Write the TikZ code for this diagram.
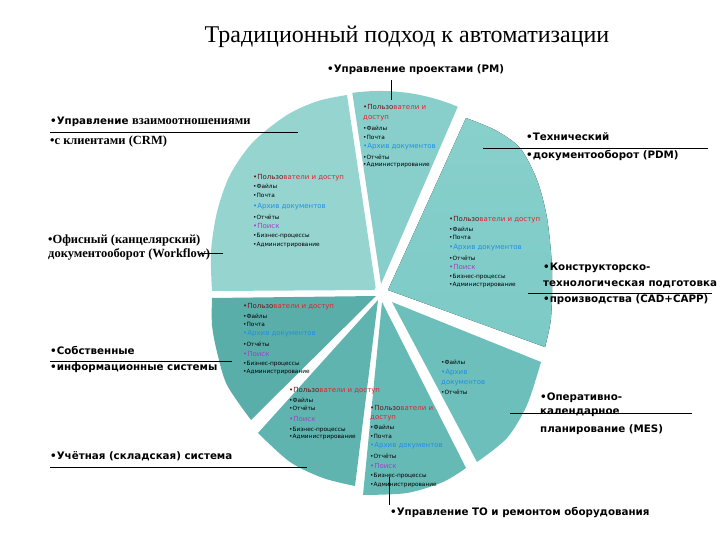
\documentclass[tikz,border=0pt]{standalone}
\usepackage{fontspec}
\setmainfont{Liberation Serif}
\newfontfamily\lblfont{DejaVu Sans}
\newfontfamily\serlbl{Liberation Serif}
\definecolor{cred}{HTML}{E3202A}
\definecolor{cdred}{HTML}{6A1414}
\definecolor{cblue}{HTML}{1E8FE6}
\definecolor{cpurp}{HTML}{A040C8}
\definecolor{sCRM}{HTML}{96D4D0}
\definecolor{sPM}{HTML}{88CFCB}
\definecolor{sCAD}{HTML}{7CCAC6}
\definecolor{sCADtop}{HTML}{88D0CC}
\definecolor{sOWN}{HTML}{5AAEAA}
\definecolor{sACC}{HTML}{60B4B0}
\definecolor{sTO}{HTML}{66BAB6}
\definecolor{sMES}{HTML}{6CBFBB}
\newcommand\usrtxt{{\color{cdred}•Пользо}ватели}
\tikzset{
  lbl/.style={font=\lblfont\bfseries\fontsize{10.3}{12}\selectfont, anchor=west, inner sep=0pt},
  slbl/.style={font=\serlbl\bfseries\fontsize{12.5}{14}\selectfont, anchor=west, inner sep=0pt},
  big/.style={font=\lblfont\fontsize{7}{8}\selectfont, anchor=west, inner sep=0pt},
  sm/.style={font=\lblfont\fontsize{5.8}{6}\selectfont, anchor=west, inner sep=0pt},
  lead/.style={draw=black, line width=0.8pt}
}
\begin{document}
\begin{tikzpicture}[x=1pt,y=-1pt]
\useasboundingbox (0,0) rectangle (720,540);
\coordinate (C) at (380,292);
% slices
\fill[sCRM] (376,290) -- plot[smooth] coordinates {(212,291) (211,252) (217,212) (230,175) (253,142) (287,115) (318,101) (347,95)} -- cycle;
\fill[sPM] (381,284) -- (352.3,92.9) arc[start angle=-98, end angle=-67, radius=199] -- cycle;
\fill[top color=sCADtop, bottom color=sCAD] (388,290) -- plot[smooth] coordinates {(466,118) (495,130) (520,148) (537,180) (547,218) (552,268) (551,318) (545,347)} -- cycle;
\fill[sOWN] (376,296) -- plot[smooth] coordinates {(212,298) (212,325) (217,352) (227,385) (251,420)} -- cycle;
\fill[sACC] (378,300) -- plot[smooth] coordinates {(258,433) (290,462) (323,478) (355,486)} -- cycle;
\fill[sTO] (382,302) -- plot[smooth] coordinates {(363,495) (407,493) (443,482) (466,468)} -- cycle;
\fill[sMES] (392,302) -- plot[smooth] coordinates {(477,462) (507,438) (527,405) (541,362)} -- cycle;
\fill[white] (C) circle[radius=6];

\node[font=\fontsize{24}{28}\selectfont] (title) at (407,37) {Традиционный подход к автоматизации};

% labels
\node[lbl] (pm) at (327,70) {•Управление проектами (PM)};
\coordinate (pma) at (391,80); \coordinate (pmb) at (391,100);
\draw[lead] (pma) -- (pmb);

\node[anchor=west, inner sep=0pt] (crm1) at (50,122) {{\lblfont\bfseries\fontsize{10.3}{12}\selectfont •Управление }{\serlbl\bfseries\fontsize{12.5}{14}\selectfont взаимоотношениями}};
\node[slbl] (crm2) at (50,141) {•с клиентами (CRM)};
\coordinate (crma) at (50,132); \coordinate (crmb) at (298,132);
\draw[lead] (crma) -- (crmb);

\node[lbl] (pdm1) at (526,137) {•Технический};
\node[lbl] (pdm2) at (526,156) {•документооборот (PDM)};
\coordinate (pdma) at (483,148); \coordinate (pdmb) at (708,148);
\draw[lead] (pdma) -- (pdmb);

\node[slbl] (wf1) at (48,240) {•Офисный (канцелярский)};
\node[slbl] (wf2) at (48,254) {документооборот (Workflow)};
\coordinate (wfa) at (200,253); \coordinate (wfb) at (223,253);
\draw[lead] (wfa) -- (wfb);

\node[lbl] (cad1) at (543,268) {•Конструкторско-};
\node[lbl] (cad2) at (543,284) {технологическая подготовка};
\node[lbl] (cad3) at (543,300) {•производства (CAD+CAPP)};
\coordinate (cada) at (528,293); \coordinate (cadb) at (712,293);
\draw[lead] (cada) -- (cadb);

\node[lbl] (own1) at (50,350) {•Собственные};
\node[lbl] (own2) at (50,368) {•информационные системы};
\coordinate (owna) at (50,361); \coordinate (ownb) at (232,361);
\draw[lead] (owna) -- (ownb);

\node[lbl] (acc) at (50,456) {•Учётная (складская) система};
\coordinate (acca) at (50,467); \coordinate (accb) at (307,467);
\draw[lead] (acca) -- (accb);

\node[lbl] (mes1) at (540,398) {•Оперативно-};
\node[lbl] (mes2) at (540,413) {календарное};
\node[lbl] (mes3) at (540,430) {планирование (MES)};
\coordinate (mesa) at (510,413); \coordinate (mesb) at (692,413);
\draw[lead] (mesa) -- (mesb);

\node[lbl] (to) at (390,513) {•Управление ТО и ремонтом оборудования};
\coordinate (toa) at (389,477); \coordinate (tob) at (389,505);
\draw[lead] (toa) -- (tob);

% block 1 (PM)
\node[big, text=cred] (b1a) at (363,107) {\usrtxt\ и};
\node[big, text=cred] (b1b) at (363,118) {доступ};
\node[sm] (b1c) at (363,128) {•Файлы};
\node[sm] (b1d) at (363,137) {•Почта};
\node[big, text=cblue] (b1e) at (363,147) {•Архив документов};
\node[sm] (b1f) at (363,157) {•Отчёты};
\node[sm] (b1g) at (363,165) {•Администрирование};

% block 2
\node[big, text=cred] (b2a) at (253,178) {\usrtxt\ и доступ};
\node[sm] (b2b) at (253,186) {•Файлы};
\node[sm] (b2c) at (253,195) {•Почта};
\node[big, text=cblue] (b2d) at (253,207) {•Архив документов};
\node[sm] (b2e) at (253,217) {•Отчёты};
\node[big, text=cpurp] (b2f) at (253,226) {•Поиск};
\node[sm] (b2g) at (253,236) {•Бизнес-процессы};
\node[sm] (b2h) at (253,245) {•Администрирование};

% block 3
\node[big, text=cred] (b3a) at (449,220) {\usrtxt\ и доступ};
\node[sm] (b3b) at (449,229) {•Файлы};
\node[sm] (b3c) at (449,237) {•Почта};
\node[big, text=cblue] (b3d) at (449,248) {•Архив документов};
\node[sm] (b3e) at (449,258) {•Отчёты};
\node[big, text=cpurp] (b3f) at (449,267) {•Поиск};
\node[sm] (b3g) at (449,277) {•Бизнес-процессы};
\node[sm] (b3h) at (449,285) {•Администрирование};

% block 4
\node[big, text=cred] (b4a) at (243,307) {\usrtxt\ и доступ};
\node[sm] (b4b) at (243,316) {•Файлы};
\node[sm] (b4c) at (243,324) {•Почта};
\node[big, text=cblue] (b4d) at (243,334) {•Архив документов};
\node[sm] (b4e) at (243,344) {•Отчёты};
\node[big, text=cpurp] (b4f) at (243,354) {•Поиск};
\node[sm] (b4g) at (243,364) {•Бизнес-процессы};
\node[sm] (b4h) at (243,372) {•Администрирование};

% block 5
\node[big, text=cred] (b5a) at (289,391) {\usrtxt\ и доступ};
\node[sm] (b5b) at (289,400) {•Файлы};
\node[sm] (b5c) at (289,408) {•Отчёты};
\node[big, text=cpurp] (b5d) at (289,419) {•Поиск};
\node[sm] (b5e) at (289,430) {•Бизнес-процессы};
\node[sm] (b5f) at (289,437) {•Администрирование};

% block 6
\node[sm] (b6a) at (441,362) {•Файлы};
\node[big, text=cblue] (b6b) at (441,373) {•Архив};
\node[big, text=cblue] (b6c) at (441,383) {документов};
\node[sm] (b6d) at (441,392) {•Отчёты};

% block 7
\node[big, text=cred] (b7a) at (370,408) {\usrtxt\ и};
\node[big, text=cred] (b7b) at (370,418) {доступ};
\node[sm] (b7c) at (370,427) {•Файлы};
\node[sm] (b7d) at (370,436) {•Почта};
\node[big, text=cblue] (b7e) at (370,446) {•Архив документов};
\node[sm] (b7f) at (370,456) {•Отчёты};
\node[big, text=cpurp] (b7g) at (370,466) {•Поиск};
\node[sm] (b7h) at (370,476) {•Бизнес-процессы};
\node[sm] (b7i) at (370,485) {•Администрирование};
\end{tikzpicture}
\end{document}
